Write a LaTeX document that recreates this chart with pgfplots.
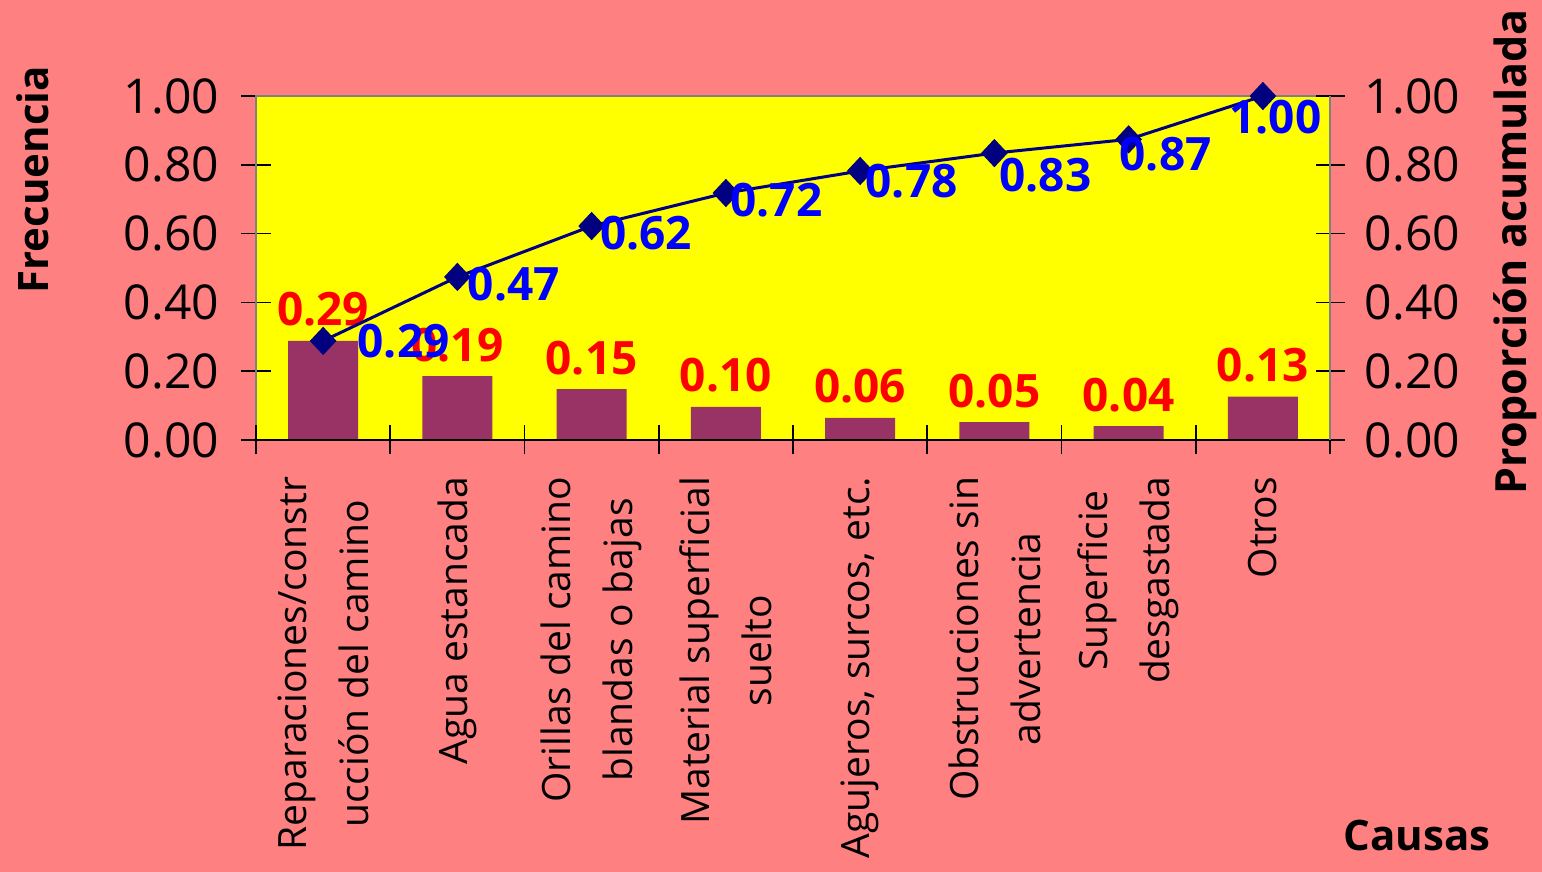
\documentclass[border=0pt]{standalone}
\usepackage{fontspec}
\setmainfont{Open Sans}
\usepackage{pgfplots}
\usepackage{pgfplotstable}
\pgfplotsset{compat=1.18}
\definecolor{bgpink}{HTML}{FF8080}
\definecolor{plotyellow}{HTML}{FFFF00}
\definecolor{barplum}{HTML}{993366}
\definecolor{linenavy}{HTML}{000080}
\definecolor{axisgray}{HTML}{808080}

\pgfplotstableread{
x f c lx ly
0 0.288 0.288 16.5 0
1 0.186 0.474 4.5 -3.75
2 0.148 0.622 3.5 -3.5
3 0.096 0.718 1.5 -3.75
4 0.064 0.782 2 -5
5 0.052 0.834 1.75 -11
6 0.040 0.874 -5.25 -7.5
7 0.126 1.000 -17.5 -10.5
}\paretodata

\begin{document}
\begin{tikzpicture}
\fill[bgpink] (0,0) rectangle (771pt,436pt);
\begin{axis}[
  at={(128pt,216pt)}, anchor=south west,
  scale only axis, width=537pt, height=172pt,
  xmin=-0.5, xmax=7.5, ymin=0, ymax=1,
  clip=false,
  axis background/.style={fill=plotyellow},
  axis line style={draw=axisgray, line width=1.2pt},
  /pgf/number format/assume math mode=true,
  ytick={0,0.2,0.4,0.6,0.8,1}, ytick pos=left,
  xtick={0,...,7}, xtick pos=bottom,
  xticklabels={{Reparaciones/constr\\ucción del camino},{Agua estancada},{Orillas del camino\\blandas o bajas},{Material superficial\\suelto},{Agujeros, surcos, etc.},{Obstrucciones sin\\advertencia},{Superficie\\desgastada},{Otros}},
  tick align=center, major tick length=14.5pt,
  ytick style={draw=black, line width=0.8pt},
  xtick style={draw=none},
  yticklabel style={font=\fontsize{24pt}{28pt}\selectfont, inner sep=0pt, anchor=east, xshift=-11pt, /pgf/number format/fixed, /pgf/number format/fixed zerofill, /pgf/number format/precision=2},
  xticklabel style={font=\fontsize{19.5pt}{31pt}\selectfont, yshift=-11pt, rotate=90, anchor=east, align=center, inner sep=0pt},
  ylabel={Frecuencia},
  ylabel style={at={(axis description cs:-0.2076,0.756)}, anchor=center, font=\bfseries\fontsize{21pt}{24pt}\selectfont},
  xlabel={Causas},
  xlabel style={at={(axis description cs:1.081,-1.151)}, anchor=center, font=\bfseries\fontsize{21pt}{24pt}\selectfont},
]
\addplot[ybar, bar width=35pt, fill=barplum, draw=none,
  nodes near coords,
  nodes near coords style={font=\bfseries\fontsize{23pt}{26pt}\selectfont, text=red, anchor=south, inner sep=0pt, yshift=7pt, /pgf/number format/fixed, /pgf/number format/fixed zerofill, /pgf/number format/precision=2}]
  table[x=x, y=f]{\paretodata};
\end{axis}
\begin{axis}[
  at={(128pt,216pt)}, anchor=south west,
  scale only axis, width=537pt, height=172pt,
  xmin=-0.5, xmax=7.5, ymin=0, ymax=1,
  clip=false,
  axis y line*=right, axis x line*=bottom,
  x axis line style={draw=black, line width=1pt, -},
  y axis line style={draw=axisgray, line width=1.2pt, -},
  /pgf/number format/assume math mode=true,
  xtick={-0.5,0.5,1.5,2.5,3.5,4.5,5.5,6.5,7.5}, xticklabels={},
  ytick={0,0.2,0.4,0.6,0.8,1},
  tick align=center, major tick length=14.5pt,
  tick style={draw=black, line width=0.8pt},
  yticklabel style={font=\fontsize{24pt}{28pt}\selectfont, inner sep=0pt, anchor=west, xshift=10pt, /pgf/number format/fixed, /pgf/number format/fixed zerofill, /pgf/number format/precision=2},
  ylabel={Proporción acumulada},
  ylabel style={at={(axis description cs:1.1723,0.5465)}, anchor=center, rotate=0, font=\bfseries\fontsize{21.5pt}{24pt}\selectfont},
]
\addplot[linenavy, line width=1.5pt, mark=diamond*, mark size=6pt, mark options={xscale=1.25, solid, fill=linenavy},
  nodes near coords,
  visualization depends on={\thisrow{lx}\as\labx},
  visualization depends on={\thisrow{ly}\as\laby},
  nodes near coords style={font=\bfseries\fontsize{23pt}{26pt}\selectfont, text=blue, anchor=west, inner sep=0pt, xshift=\labx*1pt, yshift=\laby*1pt, /pgf/number format/fixed, /pgf/number format/fixed zerofill, /pgf/number format/precision=2}]
  table[x=x, y=c]{\paretodata};
\end{axis}
\pgfresetboundingbox
\useasboundingbox (0,0) rectangle (771pt,436pt);
\end{tikzpicture}
\end{document}
